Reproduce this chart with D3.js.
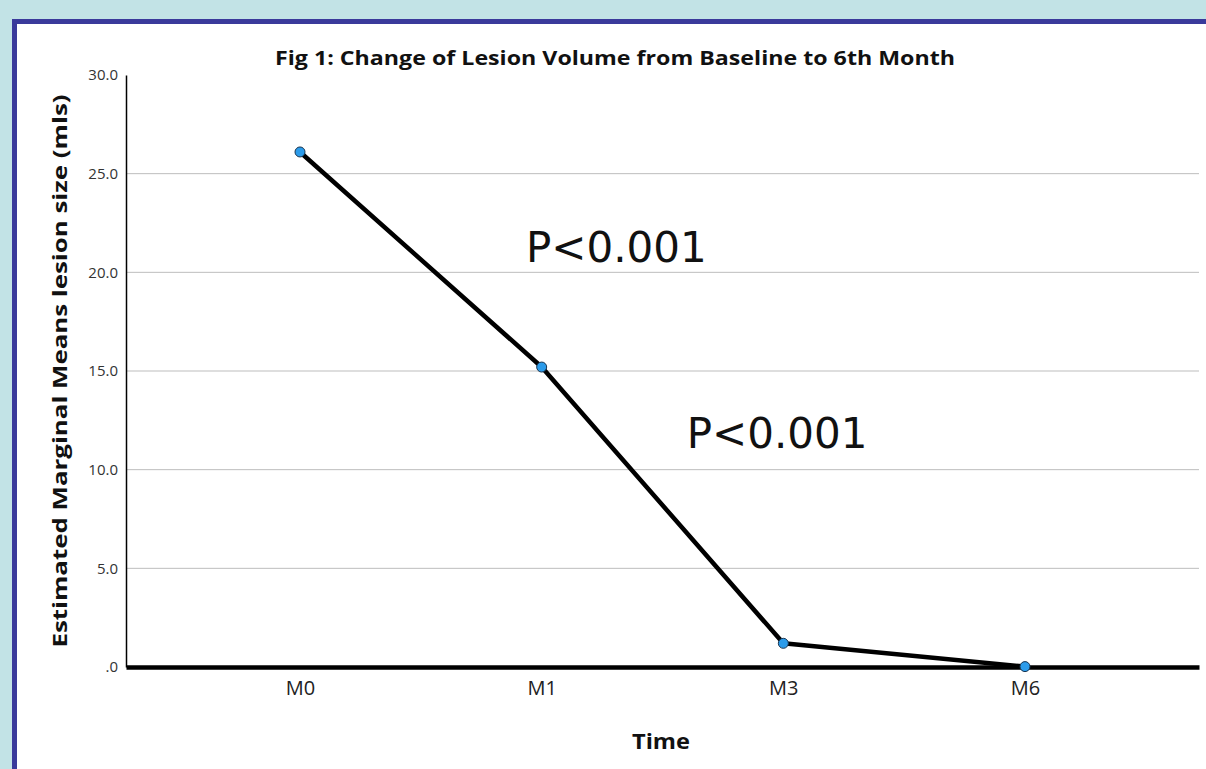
<!DOCTYPE html>
<html lang="en">
<head>
<meta charset="UTF-8">
<title>Fig 1: Change of Lesion Volume</title>
<script src="https://d3js.org/d3.v7.min.js"></script>
<style>
    body { margin: 0; background: #c2e3e6; }
    svg { display: block; }
</style>
</head>
<body>
<div id="chart"></div>
<script>
    // values
    const times = ["M0", "M1", "M3", "M6"];
    const means = [26.1, 15.2, 1.2, 0.02];
    const yTicks = [0, 5, 10, 15, 20, 25, 30];
    const notes = [
        { text: "P<0.001", x: 0.935, y: 20.5 },
        { text: "P<0.001", x: 1.6, y: 11.1 }
    ];

    const width = 1206, height = 769;
    const plotLeft = 126, plotRight = 1199, plotTop = 75, plotBottom = 667;

    const svg = d3.select("#chart").append("svg")
        .attr("width", width).attr("height", height);

    // framed white panel
    svg.append("rect")
        .attr("x", 14.5).attr("y", 21.5)
        .attr("width", width).attr("height", height)
        .attr("fill", "white")
        .attr("stroke", "#3a3a9b").attr("stroke-width", 5);

    const x = d3.scalePoint().domain(times).range([plotLeft, plotRight]).padding(0.72);
    const y = d3.scaleLinear().domain([0, 30]).range([plotBottom, plotTop]);
    const xi = d3.scaleLinear().domain([0, times.length - 1]).range([x(times[0]), x(times[times.length - 1])]);

    // gridlines
    svg.append("g")
        .selectAll("line")
        .data(yTicks.filter(t => t > 0 && t < 30))
        .join("line")
        .attr("x1", plotLeft).attr("x2", plotRight)
        .attr("y1", d => y(d)).attr("y2", d => y(d))
        .attr("stroke", "#bdbdbd").attr("stroke-width", 1);

    // y axis
    const yAxis = svg.append("g")
        .attr("transform", `translate(${plotLeft},0)`)
        .call(d3.axisLeft(y).tickValues(yTicks).tickSize(0).tickPadding(8)
            .tickFormat(d => d === 0 ? ".0" : d3.format(".1f")(d)));
    yAxis.select(".domain").attr("stroke", "#000").attr("stroke-width", 1.5);
    yAxis.selectAll("text")
        .attr("font-family", "'Open Sans', sans-serif")
        .attr("font-size", 15).attr("fill", "#333");

    // x axis
    const xAxis = svg.append("g")
        .attr("transform", `translate(0,${plotBottom})`)
        .call(d3.axisBottom(x).tickSize(0).tickPadding(14));
    xAxis.select(".domain").attr("stroke", "#000").attr("stroke-width", 4.5);
    xAxis.selectAll("text")
        .attr("font-family", "'Open Sans', sans-serif")
        .attr("font-size", 20).attr("fill", "#222");

    // line and points
    const pts = times.map((t, i) => ({ t, v: means[i] }));
    svg.append("path")
        .datum(pts)
        .attr("fill", "none")
        .attr("stroke", "#000").attr("stroke-width", 4.5)
        .attr("stroke-linejoin", "round")
        .attr("d", d3.line().x(d => x(d.t)).y(d => y(d.v)));

    svg.append("g")
        .selectAll("circle")
        .data(pts)
        .join("circle")
        .attr("cx", d => x(d.t)).attr("cy", d => y(d.v))
        .attr("r", 5)
        .attr("fill", "#2b9bea")
        .attr("stroke", "#1a3550").attr("stroke-width", 1);

    // annotations
    svg.append("g")
        .selectAll("text")
        .data(notes)
        .join("text")
        .attr("x", d => xi(d.x)).attr("y", d => y(d.y))
        .attr("font-family", "'DejaVu Sans', sans-serif")
        .attr("font-size", 42).attr("fill", "#111")
        .attr("text-anchor", "start")
        .text(d => d.text);

    // title and axis titles
    svg.append("text")
        .attr("x", 615).attr("y", 65)
        .attr("text-anchor", "middle")
        .attr("font-family", "'Open Sans', sans-serif")
        .attr("font-weight", "bold").attr("font-size", 20)
        .attr("textLength", 680).attr("lengthAdjust", "spacingAndGlyphs")
        .attr("fill", "#111")
        .text("Fig 1: Change of Lesion Volume from Baseline to 6th Month");

    svg.append("text")
        .attr("transform", `translate(67,371) rotate(-90)`)
        .attr("text-anchor", "middle")
        .attr("font-family", "'Open Sans', sans-serif")
        .attr("font-weight", "bold").attr("font-size", 20)
        .attr("textLength", 553).attr("lengthAdjust", "spacingAndGlyphs")
        .attr("fill", "#111")
        .text("Estimated Marginal Means lesion size (mls)");

    svg.append("text")
        .attr("x", 661).attr("y", 749)
        .attr("text-anchor", "middle")
        .attr("font-family", "'Open Sans', sans-serif")
        .attr("font-weight", "bold").attr("font-size", 21)
        .attr("textLength", 58).attr("lengthAdjust", "spacingAndGlyphs")
        .attr("fill", "#111")
        .text("Time");
</script>
</body>
</html>
